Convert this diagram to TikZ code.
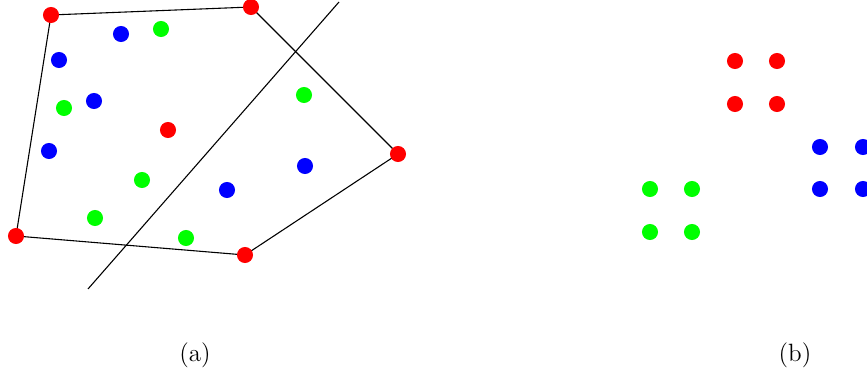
\documentclass[tikz,border=0pt]{standalone}
\usepackage{amsmath,amssymb}
\usepackage{xcolor}
\usepackage{tikz}
\usetikzlibrary{calc,backgrounds,positioning}

\begin{document}
\begin{tikzpicture}[x=0.46pt, y=-0.46pt,
		reddot/.style = {circle, fill=red, inner sep=0pt, minimum size=7.4pt},
		bluedot/.style = {circle, fill=blue, inner sep=0pt, minimum size=7.4pt},
		greendot/.style = {circle, fill=green, inner sep=0pt, minimum size=7.4pt},
		hull/.style = {black, line width=0.5pt},
		caption/.style = {font=\fontsize{11.5}{14}\selectfont}]
				\useasboundingbox (0,0) rectangle (867,372);

				% (a): points and the hull
				\node[reddot] (v1) at (51,15) {};
				\node[reddot] (v2) at (251,7) {};
				\node[reddot] (v3) at (398,154) {};
				\node[reddot] (v4) at (245,255) {};
				\node[reddot] (v5) at (16,236) {};
				\node[reddot] (r1) at (168,130) {};

				\node[bluedot] (b1) at (121,34) {};
				\node[bluedot] (b2) at (59,60) {};
				\node[bluedot] (b3) at (94,101) {};
				\node[bluedot] (b4) at (49,151) {};
				\node[bluedot] (b5) at (227,190) {};
				\node[bluedot] (b6) at (305,166) {};

				\node[greendot] (g1) at (161,29) {};
				\node[greendot] (g2) at (64,108) {};
				\node[greendot] (g3) at (304,95) {};
				\node[greendot] (g4) at (142,180) {};
				\node[greendot] (g5) at (95,218) {};
				\node[greendot] (g6) at (186,238) {};

				\coordinate (s1) at (88,289);
				\coordinate (s2) at (339,2);

				\begin{pgfonlayer}{background}
					\draw[hull] (v1.center) -- (v2.center) -- (v3.center) -- (v4.center) -- (v5.center) -- cycle;
					\draw[hull] (s1) -- (s2);
				\end{pgfonlayer}

				% (b): the clusters
				\node[reddot] (c1) at (735,61) {};
				\node[reddot] (c2) at (777,61) {};
				\node[reddot] (c3) at (735,104) {};
				\node[reddot] (c4) at (777,104) {};

				\node[bluedot] (d1) at (820,147) {};
				\node[bluedot] (d2) at (863,147) {};
				\node[bluedot] (d3) at (820,189) {};
				\node[bluedot] (d4) at (863,189) {};

				\node[greendot] (e1) at (650,189) {};
				\node[greendot] (e2) at (692,189) {};
				\node[greendot] (e3) at (650,232) {};
				\node[greendot] (e4) at (692,232) {};

				\node[caption] (capa) at (195,355) {(a)};
				\node[caption] (capb) at (795,355) {(b)};
		\end{tikzpicture}
\end{document}
